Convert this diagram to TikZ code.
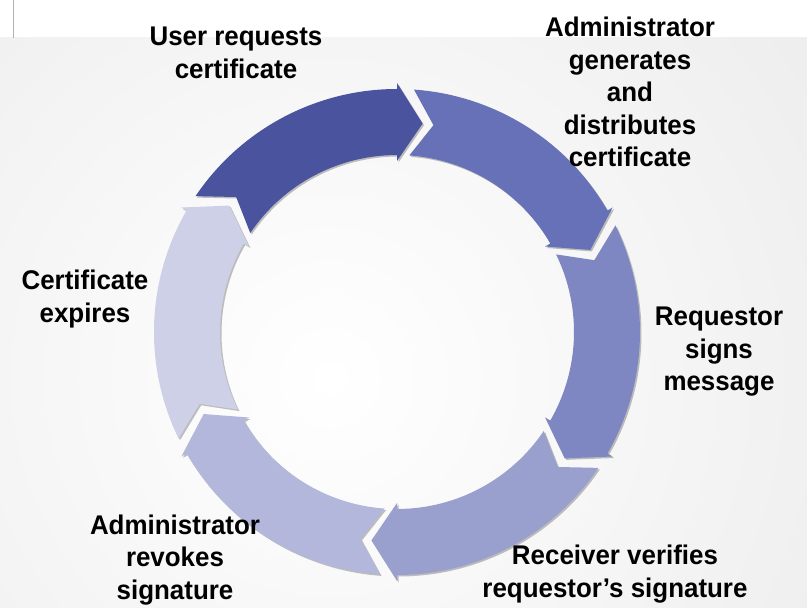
\documentclass[tikz,border=0pt]{standalone}
\usepackage{fontspec}
\setmainfont{Liberation Sans}[FakeStretch=0.96]
\usetikzlibrary{shadows}

\definecolor{stepOne}{HTML}{4A539E}
\definecolor{stepTwo}{HTML}{6671B7}
\definecolor{stepThree}{HTML}{7F87C3}
\definecolor{stepFour}{HTML}{9AA0CE}
\definecolor{stepFive}{HTML}{B3B7DB}
\definecolor{stepSix}{HTML}{CED0E7}

% one piece of the ring: colour, tail angle, head angle
\newcommand{\cyclearrow}[3]{%
  \fill[#1, piece] (#2+1:243) arc[start angle=#2+1, end angle=#3+5, radius=243]
    -- (#3+5:249) -- (#3-2:210) -- (#3+5:171) -- (#3+5:177)
    arc[start angle=#3+5, end angle=#2+1, radius=177] -- (#2-5:210) -- cycle;}

\begin{document}
\begin{tikzpicture}[x=1pt, y=1pt,
    every node/.style={align=center, font=\fontsize{27}{32.5}\selectfont\bfseries},
    piece/.style={drop shadow={shadow xshift=1.5pt, shadow yshift=-1.5pt, opacity=0.5}}]
    % Background
    \useasboundingbox (0,0) rectangle (807,608);
    \fill[white] (0,0) rectangle (807,608);
    \begin{scope}
        \clip (0,0) rectangle (807,570);
        \shade[inner color=white, outer color=black!7] (330,230) circle (600);
    \end{scope}
    \draw[black!30] (13,570) -- (13,608);

    % Ring of arrows
    \begin{scope}[shift={(397,276)}]
        \cyclearrow{stepSix}{205}{145}
        \cyclearrow{stepFive}{-95}{-155}
        \cyclearrow{stepFour}{-35}{-95}
        \cyclearrow{stepThree}{25}{-35}
        \cyclearrow{stepTwo}{85}{25}
        \cyclearrow{stepOne}{145}{85}
    \end{scope}

    % Steps
    \node (request) at (236,555) {User requests\\certificate};
    \node (issue) at (630,516) {Administrator\\generates\\and\\distributes\\certificate};
    \node (sign) at (719,256) {Requestor\\signs\\message};
    \node (verify) at (615,34) {Receiver verifies\\requestor’s signature};
    \node (revoke) at (175,48) {Administrator\\revokes\\signature};
    \node (expire) at (85,309) {Certificate\\expires};
\end{tikzpicture}
\end{document}
